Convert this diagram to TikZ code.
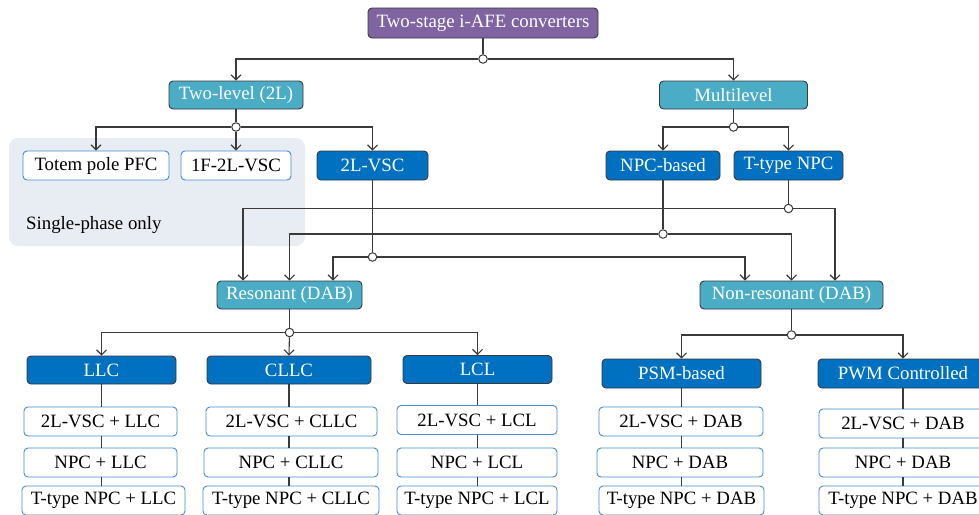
\documentclass[tikz,border=0pt]{standalone}
\usepackage{fontspec}
\setmainfont{Liberation Serif}
\usetikzlibrary{arrows.meta}
\definecolor{rootfill}{RGB}{128,100,162}
\definecolor{catfill}{RGB}{75,172,198}
\definecolor{typefill}{RGB}{0,112,192}
\definecolor{leafline}{RGB}{70,140,210}
\definecolor{wire}{RGB}{58,58,58}
\definecolor{zone}{RGB}{232,236,243}
\begin{document}
\begin{tikzpicture}[x=1pt,y=-1pt,
  every node/.style={font=\fontsize{18.8}{22}\selectfont, inner sep=0pt, anchor=center},
  box/.style={rounded corners=4pt, line width=0.9pt, minimum height=28pt},
  rootbox/.style={box, fill=rootfill, draw=wire, text=white, minimum height=30pt},
  catbox/.style={box, fill=catfill, draw=wire, text=white},
  typebox/.style={box, fill=typefill, draw=wire, text=white},
  leafbox/.style={box, fill=white, draw=leafline, text=black, minimum height=29pt},
  link/.style={draw=wire, line width=1.1pt},
  feed/.style={link, -{Straight Barb[length=5pt,width=10pt,line width=1.1pt]}},
  joint/.style={circle, draw=wire, fill=white, line width=1pt, minimum size=8.5pt, inner sep=0pt},
]
\useasboundingbox (0,0) rectangle (979,514);
\clip (0,0) rectangle (979,514);
\fill[white] (0,0) rectangle (979,514);

% shaded group of single-phase topologies
\fill[zone, rounded corners=9pt] (9,138) rectangle (305,246);
\node[anchor=west] (note) at (26,225) {Single-phase only};

% hierarchy levels
\node[rootbox, minimum width=230pt] (root) at (483,23) {Two-stage i-AFE converters};
\node[catbox, minimum width=134pt] (twol) at (236,95) {Two-level (2L)};
\node[catbox, minimum width=148pt] (multi) at (733.5,95) {Multilevel};

\node[leafbox, minimum width=146pt] (totem) at (96,165.5) {Totem pole PFC};
\node[leafbox, minimum width=110pt] (onef) at (236,165.5) {1F-2L-VSC};
\node[typebox, minimum width=111pt, minimum height=29pt] (vsc) at (372.5,165.5) {2L-VSC};
\node[typebox, minimum width=114pt, minimum height=29pt] (npcb) at (663,165.5) {NPC-based};
\node[typebox, minimum width=109pt, minimum height=29pt] (ttype) at (788.5,165.5) {T-type NPC};

\node[catbox, minimum width=145pt] (reson) at (289.5,295) {Resonant (DAB)};
\node[catbox, minimum width=183pt] (nonres) at (791.5,295) {Non-resonant (DAB)};

\node[typebox, minimum width=149pt] (llc) at (101.5,370) {LLC};
\node[typebox, minimum width=164pt] (cllc) at (289,370) {CLLC};
\node[typebox, minimum width=149pt] (lcl) at (477.5,369.5) {LCL};
\node[typebox, minimum width=159pt, minimum height=29pt] (psm) at (681.5,373.5) {PSM-based};
\node[typebox, minimum width=170pt, minimum height=29pt] (pwm) at (903,373.5) {PWM Controlled};

% combinations
\node[leafbox, minimum width=153pt] (llca) at (100.5,421.5) {2L-VSC + LLC};
\node[leafbox, minimum width=153pt] (llcb) at (100.5,462.5) {NPC + LLC};
\node[leafbox, minimum width=163pt] (llcc) at (103.5,500.5) {T-type NPC + LLC};

\node[leafbox, minimum width=171pt] (cllca) at (291.5,421.5) {2L-VSC + CLLC};
\node[leafbox, minimum width=174pt] (cllcb) at (291,462.5) {NPC + CLLC};
\node[leafbox, minimum width=176pt] (cllcc) at (291,500.5) {T-type NPC + CLLC};

\node[leafbox, minimum width=160pt] (lcla) at (477,420) {2L-VSC + LCL};
\node[leafbox, minimum width=160pt] (lclb) at (477,462.5) {NPC + LCL};
\node[leafbox, minimum width=160pt] (lclc) at (477,500.5) {T-type NPC + LCL};

\node[leafbox, minimum width=164pt] (psma) at (681,421.5) {2L-VSC + DAB};
\node[leafbox, minimum width=166pt] (psmb) at (680,462.5) {NPC + DAB};
\node[leafbox, minimum width=165pt] (psmc) at (681.5,500.5) {T-type NPC + DAB};

\node[leafbox, minimum width=168pt] (pwma) at (903,423.5) {2L-VSC + DAB};
\node[leafbox, minimum width=168pt] (pwmb) at (903,462.5) {NPC + DAB};
\node[leafbox, minimum width=168pt] (pwmc) at (903,500.5) {T-type NPC + DAB};

% branch points
\node[joint] (j0) at (483,59) {};
\node[joint] (j1) at (236,127) {};
\node[joint] (j2) at (733.5,127) {};
\node[joint] (j3) at (788.5,208.5) {};
\node[joint] (j4) at (663,234) {};
\node[joint] (j5) at (372.5,257) {};
\node[joint] (j6) at (289.5,332.5) {};
\node[joint] (j7) at (791.5,335) {};

% connectors
\draw[link] (root) -- (j0);
\draw[feed] (j0) -| (twol.north);
\draw[feed] (j0) -| (multi.north);

\draw[link] (twol) -- (j1);
\draw[feed] (j1) -| (totem.north);
\draw[feed] (j1) -- (onef.north);
\draw[feed] (j1) -| (vsc.north);

\draw[link] (multi) -- (j2);
\draw[feed] (j2) -| (npcb.north);
\draw[feed] (j2) -| (ttype.north);

\draw[link] (ttype) -- (j3);
\draw[feed] (j3) -| ([xshift=-46.5pt]reson.north);
\draw[feed] (j3) -| ([xshift=43.5pt]nonres.north);

\draw[link] (npcb) -- (j4);
\draw[feed] (j4) -| (reson.north);
\draw[feed] (j4) -| (nonres.north);

\draw[link] (vsc) -- (j5);
\draw[feed] (j5) -| ([xshift=43.5pt]reson.north);
\draw[feed] (j5) -| ([xshift=-46.5pt]nonres.north);

\draw[link] (reson) -- (j6);
\draw[feed] (j6) -| (llc.north);
\draw[feed] (j6) -- (cllc.north);
\draw[feed] (j6) -| (lcl.north);

\draw[link] (nonres) -- (j7);
\draw[feed] (j7) -| (psm.north);
\draw[feed] (j7) -| (pwm.north);

% column stems
\draw[link] (llc.south) -- (llc.south |- llca.north);
\draw[link] (llc.south |- llca.south) -- (llc.south |- llcb.north);
\draw[link] (llc.south |- llcb.south) -- (llc.south |- llcc.north);

\draw[link] (cllc.south) -- (cllc.south |- cllca.north);
\draw[link] (cllc.south |- cllca.south) -- (cllc.south |- cllcb.north);
\draw[link] (cllc.south |- cllcb.south) -- (cllc.south |- cllcc.north);

\draw[link] (lcl.south) -- (lcl.south |- lcla.north);
\draw[link] (lcl.south |- lcla.south) -- (lcl.south |- lclb.north);
\draw[link] (lcl.south |- lclb.south) -- (lcl.south |- lclc.north);

\draw[link] (psm.south) -- (psm.south |- psma.north);
\draw[link] (psm.south |- psma.south) -- (psm.south |- psmb.north);
\draw[link] (psm.south |- psmb.south) -- (psm.south |- psmc.north);

\draw[link] (pwm.south) -- (pwm.south |- pwma.north);
\draw[link] (pwm.south |- pwma.south) -- (pwm.south |- pwmb.north);
\draw[link] (pwm.south |- pwmb.south) -- (pwm.south |- pwmc.north);
\end{tikzpicture}
\end{document}
